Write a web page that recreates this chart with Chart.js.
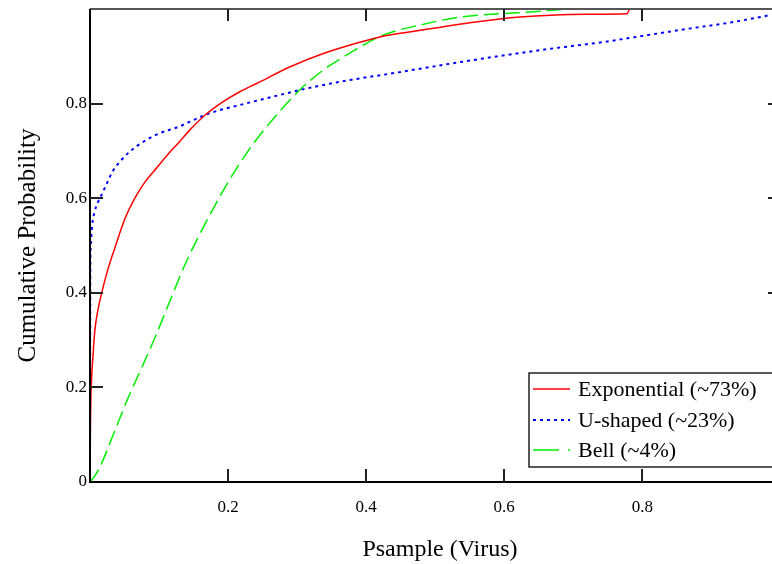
<!DOCTYPE html>
<html>
<head>
<meta charset="utf-8">
<script src="https://cdn.jsdelivr.net/npm/chart.js@4/dist/chart.umd.min.js"></script>
<style>
html,body{margin:0;padding:0;background:#fff;}
#wrap{width:772px;height:564px;}
</style>
</head>
<body>
<div id="wrap"><canvas id="c" width="772" height="564"></canvas></div>
<script>
// ---- data ----
const seriesLabels = ["Exponential (~73%)", "U-shaped (~23%)", "Bell (~4%)"];

const expX = [0, 0.0005, 0.001, 0.002, 0.004, 0.007, 0.011, 0.017, 0.026, 0.036, 0.051, 0.065, 0.08, 0.097, 0.113, 0.13, 0.145, 0.167, 0.193, 0.217, 0.242, 0.29, 0.338, 0.377, 0.42, 0.46, 0.5, 0.55, 0.594, 0.623, 0.667, 0.72, 0.778, 0.782, 0.985];
const expY = [0, 0.1, 0.16, 0.21, 0.26, 0.32, 0.36, 0.40, 0.45, 0.495, 0.558, 0.60, 0.635, 0.665, 0.693, 0.72, 0.745, 0.776, 0.804, 0.825, 0.843, 0.878, 0.906, 0.924, 0.941, 0.951, 0.96, 0.971, 0.979, 0.983, 0.987, 0.989, 0.99, 1.0, 1.0];

const uX = [0, 0.0005, 0.001, 0.003, 0.007, 0.011, 0.017, 0.024, 0.033, 0.045, 0.058, 0.075, 0.097, 0.13, 0.145, 0.174, 0.217, 0.266, 0.314, 0.377, 0.425, 0.546, 0.623, 0.667, 0.743, 0.8, 0.865, 0.93, 0.985];
const uY = [0, 0.45, 0.495, 0.54, 0.573, 0.59, 0.608, 0.63, 0.657, 0.68, 0.699, 0.717, 0.735, 0.752, 0.762, 0.78, 0.797, 0.815, 0.832, 0.85, 0.861, 0.89, 0.907, 0.916, 0.93, 0.943, 0.958, 0.972, 0.987];

const bellX = [0, 0.008, 0.017, 0.035, 0.055, 0.075, 0.094, 0.115, 0.138, 0.169, 0.205, 0.232, 0.258, 0.29, 0.309, 0.338, 0.372, 0.425, 0.478, 0.536, 0.594, 0.642, 0.7, 0.985];
const bellY = [0, 0.015, 0.04, 0.105, 0.177, 0.242, 0.305, 0.38, 0.461, 0.552, 0.646, 0.706, 0.755, 0.808, 0.836, 0.871, 0.903, 0.945, 0.966, 0.983, 0.99, 0.994, 1.0, 1.0];

const xTickValues = [0, 0.2, 0.4, 0.6, 0.8];
const xTickLabels = ["", "0.2", "0.4", "0.6", "0.8"];
const yTickValues = [0, 0.2, 0.4, 0.6, 0.8];
const yTickLabels = ["0", "0.2", "0.4", "0.6", "0.8"];
const xAxisTitle = "Psample (Virus)";
const yAxisTitle = "Cumulative Probability";

// ---- chart ----
const FONT = "'Liberation Serif', 'Times New Roman', serif";
const pts = (xs, ys) => xs.map((x, i) => ({x: x, y: ys[i]}));

const frameAndLegend = {
  id: 'frameAndLegend',
  afterDatasetsDraw(chart) {
    const {ctx, chartArea: a, scales: {x, y}} = chart;
    const yTop = y.getPixelForValue(1);
    ctx.save();
    // top border (gray)
    ctx.strokeStyle = '#555';
    ctx.lineWidth = 2;
    ctx.beginPath(); ctx.moveTo(a.left, yTop); ctx.lineTo(a.right + 2, yTop); ctx.stroke();
    // left and bottom axes
    ctx.strokeStyle = '#000';
    ctx.lineWidth = 2;
    ctx.beginPath();
    ctx.moveTo(a.left, yTop);
    ctx.lineTo(a.left, a.bottom);
    ctx.lineTo(a.right + 2, a.bottom);
    ctx.stroke();
    // inward ticks
    ctx.lineWidth = 2;
    ctx.strokeStyle = '#222';
    ctx.beginPath();
    xTickValues.forEach(v => {
      if (v === 0) return;
      const px = Math.round(x.getPixelForValue(v));
      ctx.moveTo(px, a.bottom); ctx.lineTo(px, a.bottom - 13);
      ctx.moveTo(px, yTop); ctx.lineTo(px, yTop + 12);
    });
    yTickValues.forEach(v => {
      if (v === 0) return;
      const py = Math.round(y.getPixelForValue(v));
      ctx.moveTo(a.left, py); ctx.lineTo(a.left + 13, py);
      ctx.moveTo(a.right - 2, py); ctx.lineTo(a.right + 4, py);
    });
    ctx.stroke();

    // x axis title
    ctx.fillStyle = '#000';
    ctx.font = "24px " + FONT;
    ctx.textAlign = 'center';
    ctx.textBaseline = 'middle';
    ctx.fillText(xAxisTitle, (a.left + a.right) / 2 + 10, 550);

    // legend box
    const bx = 529, by = 373, bw = 250, bh = 94;
    ctx.fillStyle = '#fff';
    ctx.fillRect(bx, by, bw, bh);
    ctx.strokeStyle = '#222';
    ctx.lineWidth = 1.5;
    ctx.strokeRect(bx, by, bw, bh);
    const rows = [389, 420, 450];
    ctx.font = "22px " + FONT;
    ctx.textBaseline = 'middle';
    ctx.textAlign = 'left';
    chart.data.datasets.forEach((ds, i) => {
      ctx.strokeStyle = ds.borderColor;
      ctx.lineWidth = ds.borderWidth;
      ctx.setLineDash(ds.legendDash || []);
      ctx.beginPath();
      ctx.moveTo(533, rows[i]); ctx.lineTo(570, rows[i]);
      ctx.stroke();
      ctx.setLineDash([]);
      ctx.fillStyle = '#000';
      ctx.fillText(ds.label, 578, rows[i] + 1);
    });
    ctx.restore();
  }
};

new Chart(document.getElementById('c'), {
  type: 'scatter',
  data: {
    datasets: [
      {label: seriesLabels[0], data: pts(expX, expY), showLine: true, borderColor: '#ff0000', borderWidth: 1.5, pointRadius: 0, cubicInterpolationMode: 'monotone', legendDash: []},
      {label: seriesLabels[1], data: pts(uX, uY), showLine: true, borderColor: '#0000ff', borderWidth: 2, borderDash: [3, 4], pointRadius: 0, cubicInterpolationMode: 'monotone', legendDash: [3, 4]},
      {label: seriesLabels[2], data: pts(bellX, bellY), showLine: true, borderColor: '#00ee00', borderWidth: 1.5, borderDash: [15, 6], pointRadius: 0, cubicInterpolationMode: 'monotone', legendDash: [26, 9, 2, 9]}
    ]
  },
  options: {
    responsive: false,
    animation: false,
    events: [],
    layout: {padding: {top: 9, right: 2, left: 0, bottom: 0}},
    plugins: {legend: {display: false}, tooltip: {enabled: false}},
    scales: {
      x: {
        type: 'linear', min: 0, max: 0.985,
        afterBuildTicks: s => { s.ticks = xTickValues.map(v => ({value: v})); },
        afterFit: s => { s.height = 82; s.paddingLeft = 0; s.paddingRight = 0; },
        grid: {display: false, drawTicks: false},
        border: {display: false},
        ticks: {
          autoSkip: false, maxRotation: 0, padding: 15, color: '#000',
          font: {family: FONT, size: 17},
          callback: (v) => { const i = xTickValues.indexOf(v); return i >= 0 ? xTickLabels[i] : ''; }
        },
        title: {display: false, text: xAxisTitle}
      },
      y: {
        type: 'linear', min: 0, max: 1,
        afterBuildTicks: s => { s.ticks = yTickValues.map(v => ({value: v})); },
        afterFit: s => { s.width = 90; s.paddingTop = 0; s.paddingBottom = 0; },
        grid: {display: false, drawTicks: false},
        border: {display: false},
        ticks: {
          autoSkip: false, padding: 3, color: '#000',
          font: {family: FONT, size: 17},
          callback: (v) => { const i = yTickValues.indexOf(v); return i >= 0 ? yTickLabels[i] : ''; }
        },
        title: {display: true, text: yAxisTitle, color: '#000', font: {family: FONT, size: 25}, padding: {top: 13, bottom: 0}}
      }
    }
  },
  plugins: [frameAndLegend]
});
</script>
</body>
</html>
